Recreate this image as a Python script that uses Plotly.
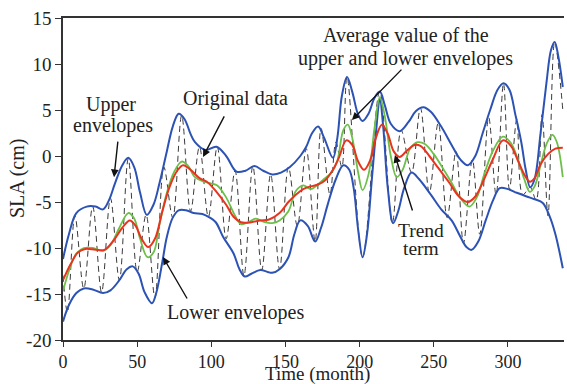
import plotly.graph_objects as go

# ---------------- data ----------------
upper_t = [0, 4, 9, 16, 22, 27, 31, 35, 40, 44, 48, 52, 56.5, 61, 65, 70, 74, 78, 82, 86, 89,
           96, 103.5, 110, 117, 123, 129, 135, 141, 147, 153, 160, 164, 168, 172, 176, 182, 185,
           188, 191.5, 195, 199, 202, 206, 210, 213.6, 217, 221, 227, 233, 238, 243, 248, 255,
           262, 268, 273, 278, 283, 288, 293, 297, 301, 305, 309, 312, 315, 318, 322, 326, 329,
           331.5, 334, 337]
upper_v = [-11.2, -8.5, -6.2, -5.5, -5.5, -5.8, -4.8, -3.0, -1.0, -0.2, -1.2, -4.0, -6.4, -5.3,
           -3.0, 0.5, 3.2, 4.6, 4.0, 2.4, 1.5, 0.65, 1.0, 0.0, -1.7, -1.6, -1.1, -1.6, -2.0, -1.8,
           -1.2, 0.0, 1.0, 2.5, 3.2, 2.0, -0.2, 2.0, 6.5, 8.6, 7.0, 4.5, 3.8, 4.6, 6.3, 7.0, 5.5,
           3.5, 2.7, 3.7, 4.9, 5.3, 4.8, 3.2, 1.2, -0.4, -1.0, 0.0, 2.5, 5.0, 7.2, 7.9, 7.2, 4.5,
           1.5, -1.5, -3.4, -2.5, 2.5, 8.0, 11.5, 12.4, 10.8, 7.5]

lower_t = [0, 4, 9, 14, 20, 27, 32, 38, 43, 47, 51, 55, 60, 63, 67, 70, 74, 78, 83, 88, 94, 99,
           103, 108, 115, 119, 122.6, 127, 133, 138, 141, 146, 152, 156, 160, 165, 170, 174,
           178.6, 184, 189, 193, 196, 199, 202, 205, 208, 211, 213.6, 216, 219, 222.6, 226, 230,
           235, 240, 248, 255, 262, 268, 272, 275.5, 280, 285, 290, 294.5, 300, 306, 312.6, 318,
           323.5, 328, 332, 337]
lower_v = [-18.0, -16.2, -14.9, -14.4, -14.5, -14.9, -14.6, -13.5, -12.3, -12.0, -12.8, -14.8,
           -16.0, -14.8, -11.5, -8.8, -6.7, -5.9, -5.9, -6.2, -6.3, -6.7, -7.2, -8.8, -10.6,
           -12.3, -13.1, -12.8, -12.4, -12.6, -12.7, -12.3, -11.0, -8.5, -7.0, -7.6, -9.3, -7.8,
           -5.2, -2.5, -1.0, -1.5, -3.5, -8.0, -11.0, -8.5, -3.0, 2.5, 6.2, 3.0, -3.5, -7.3,
           -6.0, -3.5, -1.8, -2.5, -4.2, -5.8, -7.0, -8.8, -9.9, -10.2, -9.3, -7.0, -4.8, -3.5,
           -3.6, -4.0, -4.4, -4.7, -5.1, -6.5, -8.5, -12.2]

mean_t = [0, 4, 9, 14, 20, 27, 32, 38, 44, 48, 52, 57, 61, 65, 70, 75, 80, 84, 89, 95, 100, 104,
          110, 116, 120, 125, 130, 136, 141, 146, 152, 157, 162, 167, 171, 176, 181, 185, 189,
          192, 195, 199, 202, 206, 210, 213.6, 217, 221, 225, 229, 234, 239, 244, 250, 256, 262,
          268, 274, 279, 284, 290, 296.6, 302, 307, 311, 314.7, 318, 322, 326, 330, 333, 337]
mean_v = [-14.7, -12.5, -10.6, -10.0, -10.0, -10.3, -9.7, -7.8, -6.2, -6.8, -9.0, -11.0, -10.5,
          -7.5, -4.0, -1.7, -0.6, -1.0, -2.3, -2.8, -3.0, -3.2, -4.5, -6.5, -7.4, -7.2, -6.8,
          -7.2, -7.3, -7.0, -6.0, -3.8, -3.2, -3.6, -3.2, -2.5, -1.8, -0.5, 2.8, 3.4, 2.0, -1.8,
          -3.7, -2.0, 3.0, 6.4, 4.3, 0.0, -2.3, -1.5, 0.8, 1.5, 1.3, 0.2, -1.3, -2.9, -4.6, -5.5,
          -4.5, -2.0, 0.6, 2.1, 1.4, -0.5, -2.5, -3.9, -3.3, -1.0, 1.3, 2.3, 1.5, -2.3]

trend_t = [0, 5, 10, 15, 22, 28, 34, 40, 45, 49, 53, 57.5, 62, 67, 72, 77, 81, 86, 92, 97, 103.5,
           110, 115, 120, 127, 133, 139, 146, 152, 157, 162, 167, 172, 177, 182, 186, 191, 195,
           199, 203, 207, 211, 215, 219, 223, 227, 232, 237, 241, 247, 253, 260, 267, 273, 278,
           284, 290, 296.6, 302, 307, 311, 314.7, 318, 322, 327, 332, 337]
trend_v = [-13.5, -11.8, -10.5, -10.1, -10.2, -10.2, -9.2, -7.8, -7.0, -7.6, -9.0, -9.9, -9.0,
           -6.0, -3.3, -1.6, -1.0, -1.5, -2.4, -2.8, -3.9, -5.3, -6.6, -7.2, -7.2, -7.0, -6.9,
           -6.2, -5.0, -4.2, -3.6, -3.3, -3.1, -2.6, -1.5, -0.2, 1.7, 1.2, -0.6, -1.5, -0.5, 2.0,
           3.4, 2.4, 0.5, -0.1, 0.6, 1.2, 1.1, 0.0, -1.3, -2.8, -4.4, -5.0, -4.4, -2.5, -0.3,
           1.7, 1.1, -0.6, -2.0, -2.8, -2.4, -0.9, 0.2, 0.8, 0.9]

orig_t = [0, 3, 8, 14, 20, 26, 32, 38, 44, 50, 56, 62, 68, 74, 80, 86, 92, 98, 104, 110, 116,
          122, 128, 134, 140, 146, 152, 158, 164, 170, 174, 180, 184, 188, 191.5, 202, 213.5,
          222, 228, 235, 241, 247, 253, 259, 265, 270, 276, 281, 287, 292, 297, 301, 306, 310,
          315, 319, 323, 327, 331.5, 337]
orig_v = [-13.0, -17.0, -6.5, -14.4, -5.5, -14.8, -4.6, -13.5, -0.3, -12.6, -6.4, -15.4, -1.2,
          -6.7, 4.4, -6.0, 1.0, -6.6, 1.0, -9.0, -1.6, -13.0, -1.1, -12.4, -2.0, -12.3, -1.2,
          -7.6, 0.8, -9.3, 3.0, -4.2, 1.5, -1.2, 8.6, -11.0, 7.0, -7.3, 2.8, -1.8, 5.2, -4.0,
          3.6, -6.7, 0.5, -9.5, -0.4, -8.5, 4.2, -4.2, 7.9, -3.6, 4.0, -4.2, -3.4, -4.8, 4.5,
          -6.5, 12.4, 5.0]

x_ticks = [0, 50, 100, 150, 200, 250, 300]
x_tick_text = ["0", "50", "100", "150", "200", "250", "300"]
y_ticks = [-20, -15, -10, -5, 0, 5, 10, 15]
y_tick_text = ["-20", "-15", "-10", "-5", "0", "5", "10", "15"]

# ---------------- styles ----------------
FONT = "Liberation Serif, Times New Roman, serif"
BLUE = "#2c52b4"
GREEN = "#6cbf48"
RED = "#e8341f"
AXIS = "#333333"

fig = go.Figure()
fig.add_trace(go.Scatter(x=orig_t, y=orig_v, mode="lines", line_shape="spline",
                         line=dict(color="#3a3a3a", width=1, dash="6px,4px", smoothing=1.0),
                         name="Original data"))
fig.add_trace(go.Scatter(x=upper_t, y=upper_v, mode="lines", line_shape="spline",
                         line=dict(color=BLUE, width=2, smoothing=1.0), name="Upper envelope"))
fig.add_trace(go.Scatter(x=lower_t, y=lower_v, mode="lines", line_shape="spline",
                         line=dict(color=BLUE, width=2, smoothing=1.0), name="Lower envelope"))
fig.add_trace(go.Scatter(x=mean_t, y=mean_v, mode="lines", line_shape="spline",
                         line=dict(color=GREEN, width=1.8, smoothing=1.0), name="Mean"))
fig.add_trace(go.Scatter(x=trend_t, y=trend_v, mode="lines", line_shape="spline",
                         line=dict(color=RED, width=2, smoothing=1.0), name="Trend"))

ann = []
def label(x, y, text, size=20):
    ann.append(dict(x=x, y=y, xref="x", yref="y", text=text, showarrow=False,
                    xanchor="center", yanchor="middle",
                    font=dict(family=FONT, size=size, color="#222")))

def arrow(x, y, ax, ay):
    ann.append(dict(x=x, y=y, xref="x", yref="y", text="", showarrow=True,
                    ax=ax, ay=ay, arrowhead=2, arrowsize=1.1, arrowwidth=1.4,
                    arrowcolor="#111", standoff=0))

label(32.4, 5.65, "Upper")
label(33.7, 3.37, "envelopes")
arrow(34.4, -2.3, 4, -37)
label(116.6, 6.3, "Original data")
arrow(94.4, -0.1, 22, -42)
label(231.2, 13.15, "Average value of the")
label(231.2, 10.65, "upper and lower envelopes")
arrow(194.8, 3.9, 51, -52)
label(116.6, -16.96, "Lower envelopes")
arrow(67.4, -10.98, 25, 43)
label(241.4, -8.1, "Trend", size=19.5)
label(241.4, -10.0, "term", size=19.5)
arrow(223.8, 0.1, 18, 57)

# axis titles
ann.append(dict(x=0, y=0.5, xref="paper", yref="paper", xshift=-46, text="SLA (cm)",
                textangle=-90, showarrow=False, xanchor="center", yanchor="middle",
                font=dict(family=FONT, size=20, color="#222")))
ann.append(dict(x=0.507, y=0, xref="paper", yref="paper", yshift=-34, text="Time (month)",
                showarrow=False, xanchor="center", yanchor="middle",
                font=dict(family=FONT, size=19, color="#222")))

fig.update_layout(
    width=567, height=384,
    margin=dict(l=63, r=3, t=18, b=44),
    plot_bgcolor="white", paper_bgcolor="white",
    showlegend=False,
    annotations=ann,
    xaxis=dict(range=[0, 337.8], tickvals=x_ticks, ticktext=x_tick_text,
               showgrid=False, zeroline=False, showline=True, linecolor=AXIS, linewidth=1.5,
               mirror=True, ticks="outside", ticklen=5, tickwidth=1.3, tickcolor=AXIS,
               tickfont=dict(family=FONT, size=18, color="#222")),
    yaxis=dict(range=[-20, 15], tickvals=y_ticks, ticktext=y_tick_text,
               showgrid=False, zeroline=False, showline=True, linecolor=AXIS, linewidth=1.5,
               ticks="outside", ticklen=6, tickwidth=1.3, tickcolor=AXIS,
               tickfont=dict(family=FONT, size=19, color="#222")),
)

fig.write_html("out.html")
